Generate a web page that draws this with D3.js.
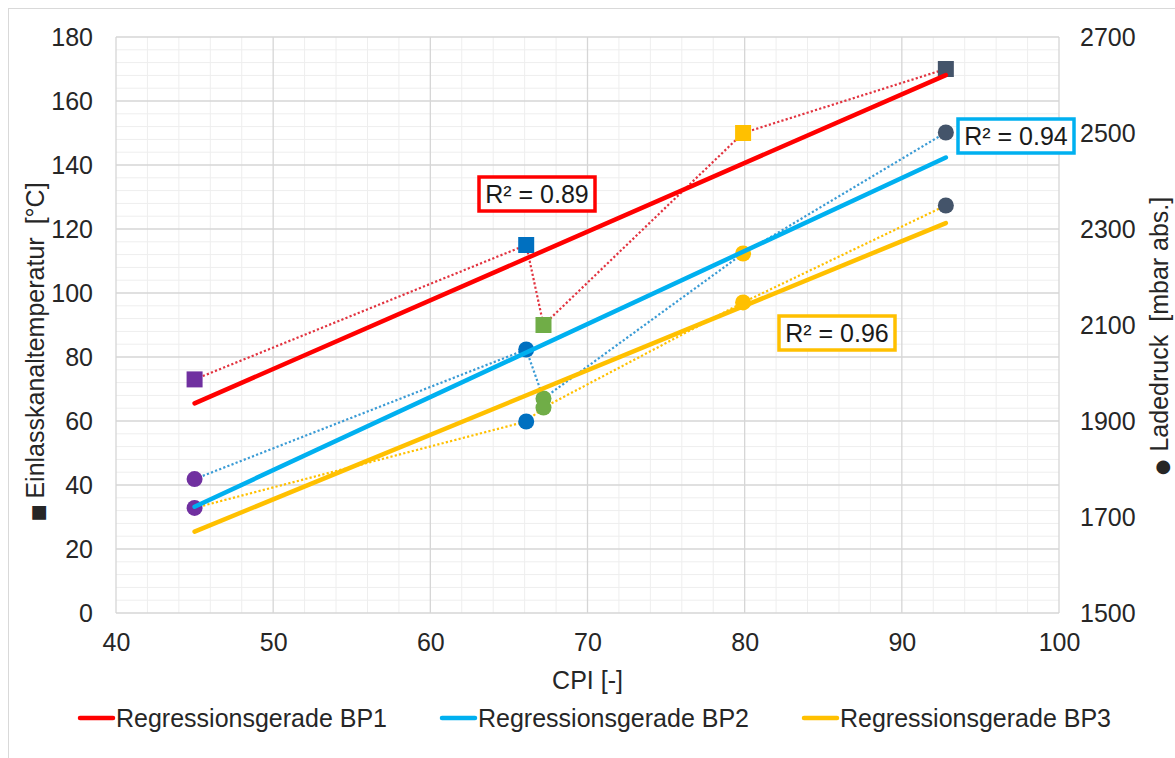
<!DOCTYPE html>
<html>
<head>
<meta charset="utf-8">
<script src="https://cdn.jsdelivr.net/npm/d3@7"></script>
<style>
  html, body { margin: 0; padding: 0; background: #fff; }
  svg { display: block; font-family: "Liberation Sans", Arial, sans-serif; }
</style>
</head>
<body>
<svg id="chart" width="1175" height="758"></svg>
<script>
// Operating points (CPI) shared by all three series
const cpi = [45, 66.1, 67.2, 79.9, 92.8];
const pointColors = ["#7030A0", "#0070C0", "#70AD47", "#FFC000", "#44546A"];

// BP1: intake port temperature [°C] (left axis, squares)
const tempBP1 = [73, 115, 90, 150, 170];
// BP2 / BP3: boost pressure [mbar abs.] (right axis, circles)
const pressureBP2 = [1779, 2049, 1947, 2249, 2501];
const pressureBP3 = [1719, 1899, 1928, 2147, 2349];

// Axis ticks
const xTicks = [40, 50, 60, 70, 80, 90, 100];
const leftTicks = [0, 20, 40, 60, 80, 100, 120, 140, 160, 180];
const rightTicks = [1500, 1700, 1900, 2100, 2300, 2500, 2700];

const legendLabels = ["Regressionsgerade BP1", "Regressionsgerade BP2", "Regressionsgerade BP3"];
const trendColors = ["#FF0000", "#00B0F0", "#FFC000"];
const dotColors = ["#E2333F", "#3A9BD5", "#FFC000"];

const svg = d3.select("#chart");
const FONT = 25;

const x = d3.scaleLinear().domain([40, 100]).range([116, 1059]);
const yL = d3.scaleLinear().domain([0, 180]).range([613, 37]);
const yR = d3.scaleLinear().domain([1500, 2700]).range([613, 37]);

// chart area frame
svg.append("rect").attr("x", 8.5).attr("y", 8.5).attr("width", 1300).attr("height", 900)
  .attr("fill", "#fff").attr("stroke", "#d9d9d9").attr("stroke-width", 1);

// gridlines
const grid = svg.append("g");
const minorX = d3.range(40, 100.01, 2).filter(v => v % 10 !== 0);
const minorY = d3.range(0, 180.01, 4).filter(v => v % 20 !== 0);
grid.selectAll(".mx").data(minorX).join("line")
  .attr("x1", d => x(d)).attr("x2", d => x(d)).attr("y1", yL(0)).attr("y2", yL(180))
  .attr("stroke", "#eeeeee").attr("stroke-width", 1);
grid.selectAll(".my").data(minorY).join("line")
  .attr("y1", d => yL(d)).attr("y2", d => yL(d)).attr("x1", x(40)).attr("x2", x(100))
  .attr("stroke", "#eeeeee").attr("stroke-width", 1);
grid.selectAll(".MX").data(xTicks).join("line")
  .attr("x1", d => x(d)).attr("x2", d => x(d)).attr("y1", yL(0)).attr("y2", yL(180))
  .attr("stroke", "#d6d6d6").attr("stroke-width", 1.3);
grid.selectAll(".MY").data(leftTicks).join("line")
  .attr("y1", d => yL(d)).attr("y2", d => yL(d)).attr("x1", x(40)).attr("x2", x(100))
  .attr("stroke", "#d6d6d6").attr("stroke-width", 1.3);

// axes
function styleAxis(g) {
  g.select(".domain").remove();
  g.selectAll("line").remove();
  g.selectAll("text").attr("font-size", FONT).attr("fill", "#262626")
    .attr("font-family", "'Liberation Sans', Arial, sans-serif");
}
const plain = d3.format("d");
svg.append("g").attr("transform", `translate(0,${yL(0)})`)
  .call(d3.axisBottom(x).tickValues(xTicks).tickFormat(plain).tickSize(0).tickPadding(20))
  .call(styleAxis);
svg.append("g").attr("transform", `translate(${x(40)},0)`)
  .call(d3.axisLeft(yL).tickValues(leftTicks).tickFormat(plain).tickSize(0).tickPadding(23))
  .call(styleAxis);
svg.append("g").attr("transform", `translate(${x(100)},0)`)
  .call(d3.axisRight(yR).tickValues(rightTicks).tickFormat(plain).tickSize(0).tickPadding(21))
  .call(styleAxis);

// axis titles
svg.append("text").attr("x", x(70)).attr("y", 689).attr("text-anchor", "middle")
  .attr("font-size", FONT).attr("fill", "#262626").text("CPI [-]");
const lt = svg.append("text").attr("transform", "translate(44,352) rotate(-90)")
  .attr("text-anchor", "middle").attr("font-size", FONT).attr("fill", "#262626");
lt.append("tspan").attr("font-size", 18).attr("font-family", "'DejaVu Sans', sans-serif").text("■");
lt.append("tspan").attr("dx", 6).text("Einlasskanaltemperatur");
lt.append("tspan").attr("dx", 13).text("[°C]");
const rt = svg.append("text").attr("transform", "translate(1168,336) rotate(-90)")
  .attr("text-anchor", "middle").attr("font-size", FONT).attr("fill", "#262626");
rt.append("tspan").attr("font-size", 18).attr("font-family", "'DejaVu Sans', sans-serif").text("●");
rt.append("tspan").attr("dx", 8).text("Ladedruck");
rt.append("tspan").attr("dx", 13).text("[mbar abs.]");

// series definitions
const series = [
  { values: tempBP1, y: yL, shape: "square" },
  { values: pressureBP2, y: yR, shape: "circle" },
  { values: pressureBP3, y: yR, shape: "circle" }
];

// least-squares trend line and coefficient of determination
function regression(xs, ys) {
  const mx = d3.mean(xs), my = d3.mean(ys);
  let sxy = 0, sxx = 0, syy = 0;
  xs.forEach((xv, i) => {
    sxy += (xv - mx) * (ys[i] - my);
    sxx += (xv - mx) ** 2;
    syy += (ys[i] - my) ** 2;
  });
  const slope = sxy / sxx;
  return { slope, intercept: my - slope * mx, r2: (sxy * sxy) / (sxx * syy) };
}

// dotted connection lines
series.forEach((s, k) => {
  const line = d3.line().x((d, i) => x(cpi[i])).y(d => s.y(d));
  svg.append("path").datum(s.values).attr("d", line).attr("fill", "none")
    .attr("stroke", dotColors[k]).attr("stroke-width", 2.2)
    .attr("stroke-dasharray", "2.2 2.2");
});

// markers
series.forEach(s => {
  const g = svg.append("g");
  if (s.shape === "square") {
    g.selectAll("rect").data(s.values).join("rect")
      .attr("x", (d, i) => x(cpi[i]) - 8).attr("y", d => s.y(d) - 8)
      .attr("width", 16).attr("height", 16)
      .attr("fill", (d, i) => pointColors[i]);
  } else {
    g.selectAll("circle").data(s.values).join("circle")
      .attr("cx", (d, i) => x(cpi[i])).attr("cy", d => s.y(d)).attr("r", 8)
      .attr("fill", (d, i) => pointColors[i]);
  }
});

// regression lines
const fits = series.map(s => regression(cpi, s.values));
series.forEach((s, k) => {
  const f = fits[k];
  const x0 = d3.min(cpi), x1 = d3.max(cpi);
  svg.append("line")
    .attr("x1", x(x0)).attr("y1", s.y(f.intercept + f.slope * x0))
    .attr("x2", x(x1)).attr("y2", s.y(f.intercept + f.slope * x1))
    .attr("stroke", trendColors[k]).attr("stroke-width", 4.5).attr("stroke-linecap", "round");
});

// R² boxes
const boxCenters = [[537, 194], [1016, 136], [837, 333]];
fits.forEach((f, k) => {
  const [cx, cy] = boxCenters[k];
  const g = svg.append("g");
  g.append("rect").attr("x", cx - 58).attr("y", cy - 17).attr("width", 116).attr("height", 34)
    .attr("fill", "#fff").attr("stroke", trendColors[k]).attr("stroke-width", 3.5);
  g.append("text").attr("x", cx).attr("y", cy + 9).attr("text-anchor", "middle")
    .attr("font-size", FONT).attr("fill", "#1a1a1a")
    .text("R² = " + d3.format(".2f")(f.r2));
});

// legend
const legendX = [80, 442, 804];
legendLabels.forEach((lab, k) => {
  const g = svg.append("g").attr("transform", `translate(${legendX[k]},718)`);
  g.append("line").attr("x1", 0).attr("x2", 33).attr("y1", 0).attr("y2", 0)
    .attr("stroke", trendColors[k]).attr("stroke-width", 4.5).attr("stroke-linecap", "round");
  g.append("text").attr("x", 36).attr("y", 9).attr("font-size", FONT).attr("fill", "#262626").text(lab);
});
</script>
</body>
</html>
